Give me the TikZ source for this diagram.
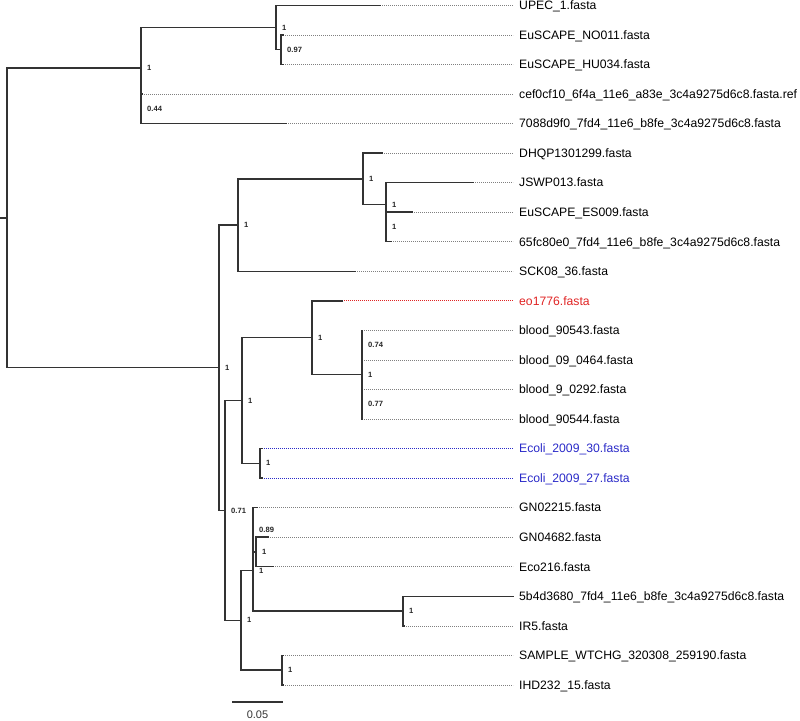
\documentclass[tikz,border=0pt]{standalone}
\usepackage{fontspec}
\setmainfont{Liberation Sans}
\definecolor{brc}{HTML}{333333}
\definecolor{dtc}{HTML}{808080}
\definecolor{redc}{HTML}{E02424}
\definecolor{bluec}{HTML}{2A2AC8}
\tikzset{
  br/.style={draw=brc, line width=1.45pt, line cap=rect},
  dt/.style={line width=0.7pt, dash pattern=on 0.7pt off 1.3pt},
  lab/.style={anchor=base west, inner sep=0pt, font=\fontsize{12.2}{14}\selectfont},
  bs/.style={anchor=west, inner sep=0pt, xshift=6pt, font=\bfseries\fontsize{7.6}{9}\selectfont, text=black!85},
}
\newcommand\leaf[6]{%
  \coordinate (#1) at (#2,#3);
  \coordinate (#1e) at (513,#3);
  \node[lab, text=#5] (#1t) at (519,{#3+4.3}) {#4};
  \draw[dt, draw=#6] (#1) -- (#1e);
}
\begin{document}
\begin{tikzpicture}[x=1pt, y=-1pt]
\useasboundingbox (0,0) rectangle (800,720);
% internal nodes
\coordinate (R) at (7,217.9);
\coordinate (rt) at (0,217.9);
\coordinate (A) at (141,68.1);
\coordinate (B) at (141,108.7);
\coordinate (P) at (276,27.45);
\coordinate (C) at (281,49.6);
\coordinate (X) at (219,367.75);
\coordinate (D) at (238,225.1);
\coordinate (E) at (363,178.9);
\coordinate (F) at (386,204.75);
\coordinate (G) at (386,226.9);
\coordinate (Y) at (225,510.4);
\coordinate (Z) at (242,400.5);
\coordinate (H) at (312,337.7);
\coordinate (J) at (362,374.65);
\coordinate (K) at (362,345.1);
\coordinate (L) at (362,404.2);
\coordinate (I) at (260,463.3);
\coordinate (W) at (241,620.3);
\coordinate (U) at (253,570.45);
\coordinate (N) at (253,529.8);
\coordinate (Q) at (256,552);
\coordinate (O) at (403,611.1);
\coordinate (M) at (282,670.2);
% leaves
\leaf{l0}{380}{5.3}{UPEC\_1.fasta}{black}{dtc}
\leaf{l1}{283}{34.85}{EuSCAPE\_NO011.fasta}{black}{dtc}
\leaf{l2}{283}{64.4}{EuSCAPE\_HU034.fasta}{black}{dtc}
\leaf{l3}{142}{93.95}{cef0cf10\_6f4a\_11e6\_a83e\_3c4a9275d6c8.fasta.ref}{black}{dtc}
\leaf{l4}{286}{123.5}{7088d9f0\_7fd4\_11e6\_b8fe\_3c4a9275d6c8.fasta}{black}{dtc}
\leaf{l5}{382}{153.05}{DHQP1301299.fasta}{black}{dtc}
\leaf{l6}{473}{182.6}{JSWP013.fasta}{black}{dtc}
\leaf{l7}{412}{212.15}{EuSCAPE\_ES009.fasta}{black}{dtc}
\leaf{l8}{391}{241.7}{65fc80e0\_7fd4\_11e6\_b8fe\_3c4a9275d6c8.fasta}{black}{dtc}
\leaf{l9}{355}{271.25}{SCK08\_36.fasta}{black}{dtc}
\leaf{l10}{342}{300.8}{eo1776.fasta}{redc}{redc}
\leaf{l11}{362}{330.35}{blood\_90543.fasta}{black}{dtc}
\leaf{l12}{362}{359.9}{blood\_09\_0464.fasta}{black}{dtc}
\leaf{l13}{362}{389.45}{blood\_9\_0292.fasta}{black}{dtc}
\leaf{l14}{362}{419.0}{blood\_90544.fasta}{black}{dtc}
\leaf{l15}{262}{448.55}{Ecoli\_2009\_30.fasta}{bluec}{bluec}
\leaf{l16}{262}{478.1}{Ecoli\_2009\_27.fasta}{bluec}{bluec}
\leaf{l17}{257}{507.65}{GN02215.fasta}{black}{dtc}
\leaf{l18}{268}{537.2}{GN04682.fasta}{black}{dtc}
\leaf{l19}{273}{566.75}{Eco216.fasta}{black}{dtc}
\leaf{l20}{513}{596.3}{5b4d3680\_7fd4\_11e6\_b8fe\_3c4a9275d6c8.fasta}{black}{dtc}
\leaf{l21}{404}{625.85}{IR5.fasta}{black}{dtc}
\leaf{l22}{283}{655.4}{SAMPLE\_WTCHG\_320308\_259190.fasta}{black}{dtc}
\leaf{l23}{283}{684.95}{IHD232\_15.fasta}{black}{dtc}
% branches
\draw[br] (rt) -- (R);
\draw[br] (R) |- (A);
\draw[br] (R) |- (X);
\draw[br] (A) |- (P);
\draw[br] (A) |- (B);
\draw[br] (P) |- (l0);
\draw[br] (P) |- (C);
\draw[br] (C) |- (l1);
\draw[br] (C) |- (l2);
\draw[br] (B) |- (l3);
\draw[br] (B) |- (l4);
\draw[br] (X) |- (D);
\draw[br] (X) |- (Y);
\draw[br] (D) |- (E);
\draw[br] (D) |- (l9);
\draw[br] (E) |- (l5);
\draw[br] (E) |- (F);
\draw[br] (F) |- (l6);
\draw[br] (F) |- (G);
\draw[br] (G) |- (l7);
\draw[br] (G) |- (l8);
\draw[br] (Y) |- (Z);
\draw[br] (Y) |- (W);
\draw[br] (Z) |- (H);
\draw[br] (Z) |- (I);
\draw[br] (H) |- (l10);
\draw[br] (H) |- (J);
\draw[br] (J) |- (K);
\draw[br] (J) |- (L);
\draw[br] (K) |- (l11);
\draw[br] (K) |- (l12);
\draw[br] (L) |- (l13);
\draw[br] (L) |- (l14);
\draw[br] (I) |- (l15);
\draw[br] (I) |- (l16);
\draw[br] (W) |- (U);
\draw[br] (W) |- (M);
\draw[br] (U) |- (N);
\draw[br] (U) |- (O);
\draw[br] (N) |- (l17);
\draw[br] (N) |- (Q);
\draw[br] (Q) |- (l18);
\draw[br] (Q) |- (l19);
\draw[br] (O) |- (l20);
\draw[br] (O) |- (l21);
\draw[br] (M) |- (l22);
\draw[br] (M) |- (l23);
% support values
\node[bs] at (A) {1};
\node[bs] at (B) {0.44};
\node[bs] at (P) {1};
\node[bs] at (C) {0.97};
\node[bs] at (X) {1};
\node[bs] at (D) {1};
\node[bs] at (E) {1};
\node[bs] at (F) {1};
\node[bs] at (G) {1};
\node[bs] at (Y) {0.71};
\node[bs] at (Z) {1};
\node[bs] at (H) {1};
\node[bs] at (J) {1};
\node[bs] at (K) {0.74};
\node[bs] at (L) {0.77};
\node[bs] at (I) {1};
\node[bs] at (W) {1};
\node[bs] at (U) {1};
\node[bs] at (N) {0.89};
\node[bs] at (Q) {1};
\node[bs] at (O) {1};
\node[bs] at (M) {1};
% scale bar
\coordinate (sb1) at (233,702);
\coordinate (sb2) at (282,702);
\draw[br] (sb1) -- (sb2);
\node[inner sep=0pt, font=\fontsize{11}{13}\selectfont, text=brc] (sbt) at (257.5,715) {0.05};
\end{tikzpicture}
\end{document}
